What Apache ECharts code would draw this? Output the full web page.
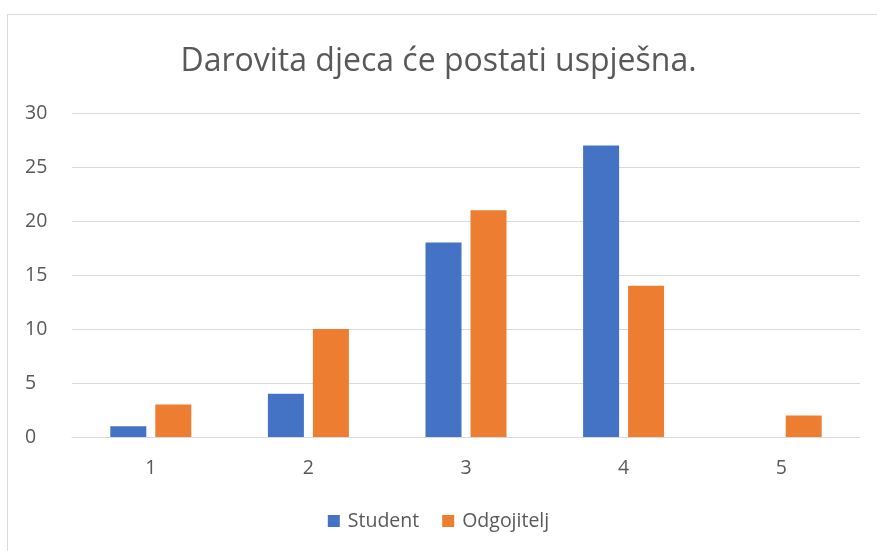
<!DOCTYPE html>
<html>
<head>
<meta charset="utf-8">
<script src="https://cdn.jsdelivr.net/npm/echarts@6/dist/echarts.min.js"></script>
<style>
  html, body { margin: 0; padding: 0; background: #fff; overflow: hidden; }
  .frame {
    position: absolute; left: 7px; top: 14px;
    width: 900px; height: 600px;
    border: 1px solid #d9d9d9;
  }
  #chart { position: absolute; left: 0; top: 0; width: 877px; height: 551px; }
</style>
</head>
<body>
<div class="frame"></div>
<div id="chart"></div>
<script>
const categories = ['1', '2', '3', '4', '5']
const studentValues = [1, 4, 18, 27, 0]
const teacherValues = [3, 10, 21, 14, 2]
const seriesNames = ['Student', 'Odgojitelj']

const chart = echarts.init(document.getElementById('chart'))
const font = 'Open Sans'

chart.setOption({
  animation: false,
  title: {
    text: 'Darovita djeca će postati uspješna.',
    left: 'center',
    top: 41,
    textStyle: { fontFamily: font, fontSize: 32, fontWeight: 'normal', color: '#595959' }
  },
  legend: {
    data: seriesNames,
    bottom: 15,
    left: 'center',
    itemWidth: 12,
    itemHeight: 12,
    itemGap: 23,
    icon: 'rect',
    textStyle: { fontFamily: font, fontSize: 19.5, color: '#595959', padding: [0, 0, 0, 3] }
  },
  grid: { left: 72, right: 17, top: 113, bottom: 114 },
  xAxis: {
    type: 'category',
    data: categories,
    axisLine: { lineStyle: { color: '#d9d9d9' } },
    axisTick: { show: false },
    axisLabel: { fontFamily: font, fontSize: 19.5, color: '#595959', margin: 21 }
  },
  yAxis: {
    type: 'value',
    min: 0, max: 30, interval: 5,
    axisLine: { show: false },
    axisTick: { show: false },
    splitLine: { lineStyle: { color: '#d9d9d9' } },
    axisLabel: { fontFamily: font, fontSize: 19.5, color: '#595959', margin: 47, align: 'left' }
  },
  series: [
    { name: seriesNames[0], type: 'bar', data: studentValues, barWidth: 36, barGap: '25%',
      itemStyle: { color: '#4472c4' } },
    { name: seriesNames[1], type: 'bar', data: teacherValues, barWidth: 36, barGap: '25%',
      itemStyle: { color: '#ed7d31' } }
  ]
})
</script>
</body>
</html>
